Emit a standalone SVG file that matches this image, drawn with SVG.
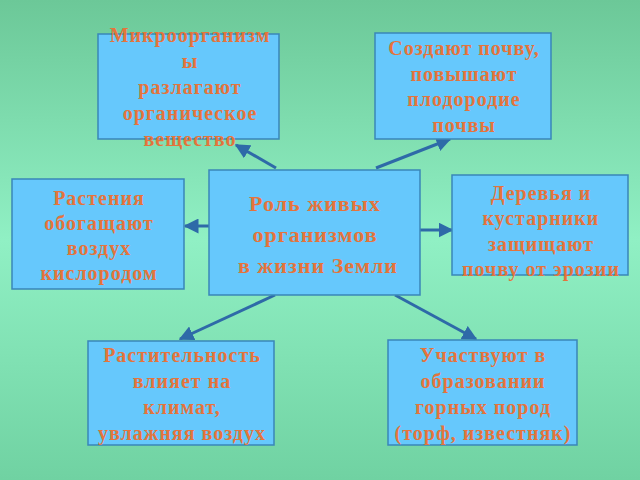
<svg xmlns="http://www.w3.org/2000/svg" width="640" height="480" viewBox="0 0 640 480">
<defs>
<linearGradient id="bg" x1="0" y1="0" x2="0" y2="1">
<stop offset="0" stop-color="#6cc898"/>
<stop offset="0.5" stop-color="#90f0c4"/>
<stop offset="1" stop-color="#70d2a2"/>
</linearGradient>
<marker id="ah" viewBox="0 0 10 10" refX="9" refY="5" markerWidth="5" markerHeight="5" orient="auto" markerUnits="strokeWidth">
<path d="M0,0 L10,5 L0,10 z" fill="#2e6aa8"/>
</marker>
<style>
.box{fill:#66c8fc;stroke:#3a86b8;stroke-width:1.5}
.t{font-family:"Liberation Serif","Times New Roman",serif;font-weight:bold;font-size:20px;letter-spacing:1px;fill:#e4743c;text-anchor:middle}
.c{font-size:22px}
.ar{stroke:#2e6aa8;stroke-width:3;fill:none;marker-end:url(#ah)}
</style>
</defs>
<rect width="640" height="480" fill="url(#bg)"/>
<g id="connectors">
<line class="ar" x1="276" y1="168" x2="236" y2="145"/>
<line class="ar" x1="376" y1="168" x2="450" y2="139"/>
<line class="ar" x1="209" y1="226" x2="185" y2="226"/>
<line class="ar" x1="420" y1="230" x2="452" y2="230"/>
<line class="ar" x1="275" y1="295" x2="180" y2="339"/>
<line class="ar" x1="395" y1="295" x2="476" y2="339"/>
</g>
<g id="n1">
<rect class="box" x="98" y="34" width="181" height="105"/>
<text class="t"><tspan x="190" y="42">Микроорганизм</tspan><tspan x="190" y="68">ы</tspan><tspan x="190" y="94">разлагают</tspan><tspan x="190" y="120">органическое</tspan><tspan x="190" y="146">вещество</tspan></text>
</g>
<g id="n2">
<rect class="box" x="375" y="33" width="176" height="106"/>
<text class="t"><tspan x="464" y="55">Создают почву,</tspan><tspan x="464" y="81">повышают</tspan><tspan x="464" y="106">плодородие</tspan><tspan x="464" y="132">почвы</tspan></text>
</g>
<g id="n3">
<rect class="box" x="12" y="179" width="172" height="110"/>
<text class="t"><tspan x="99" y="205">Растения</tspan><tspan x="99" y="230">обогащают</tspan><tspan x="99" y="255">воздух</tspan><tspan x="99" y="280">кислородом</tspan></text>
</g>
<g id="center">
<rect class="box" x="209" y="170" width="211" height="125"/>
<text class="t c"><tspan x="315" y="211">Роль живых</tspan><tspan x="315" y="242">организмов</tspan><tspan x="318" y="273">в жизни Земли</tspan></text>
</g>
<g id="n4">
<rect class="box" x="452" y="175" width="176" height="100"/>
<text class="t"><tspan x="541" y="200">Деревья и</tspan><tspan x="541" y="225">кустарники</tspan><tspan x="541" y="251">защищают</tspan><tspan x="541" y="276">почву от эрозии</tspan></text>
</g>
<g id="n5">
<rect class="box" x="88" y="341" width="186" height="104"/>
<text class="t"><tspan x="182" y="362">Растительность</tspan><tspan x="182" y="388">влияет на</tspan><tspan x="182" y="414">климат,</tspan><tspan x="182" y="440">увлажняя воздух</tspan></text>
</g>
<g id="n6">
<rect class="box" x="388" y="340" width="189" height="105"/>
<text class="t"><tspan x="483" y="362">Участвуют в</tspan><tspan x="483" y="388">образовании</tspan><tspan x="483" y="414">горных пород</tspan><tspan x="483" y="440">(торф, известняк)</tspan></text>
</g>
</svg>
